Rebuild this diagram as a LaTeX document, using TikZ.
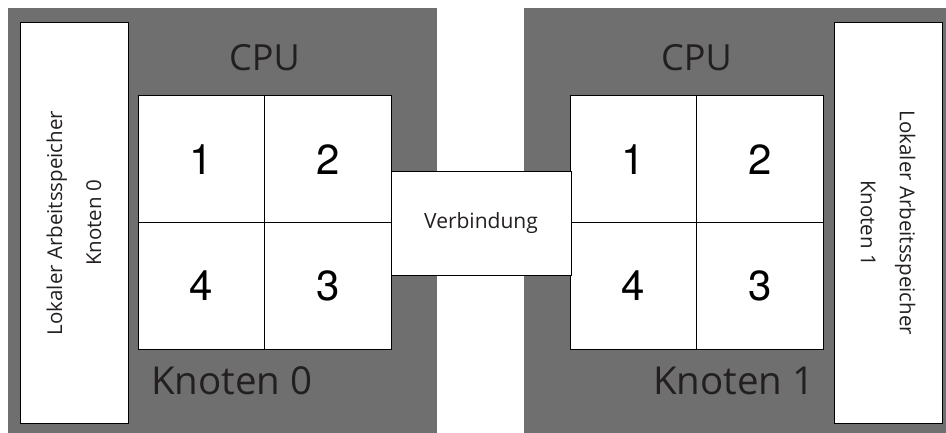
\documentclass[tikz,border=0pt]{standalone}
\usepackage{fontspec}
\setmainfont{Open Sans}
\newfontfamily\digitfont{TeX Gyre Heros}
\usetikzlibrary{positioning}
\definecolor{knotengray}{HTML}{6F6F6F}
\definecolor{textdark}{HTML}{231F20}

\begin{document}
\begin{tikzpicture}[x=1pt,y=-1pt,
		knoten/.style={rectangle,fill=knotengray,draw=none,inner sep=0pt,anchor=north west},
		% rotated: width runs along the text
		speicher/.style={rectangle,fill=white,draw=black,line width=1pt,inner sep=0pt,
			minimum width=400pt,minimum height=108pt,align=center,text=textdark,
			font=\fontsize{20.5}{39}\selectfont},
		cell/.style={rectangle,fill=white,draw=black,line width=1pt,inner sep=0pt,
			minimum width=126.5pt,minimum height=126.5pt,font=\digitfont\fontsize{42}{42}\selectfont},
		titel/.style={text=textdark,inner sep=0pt,font=\fontsize{36}{36}\selectfont},
		knotenname/.style={text=textdark,inner sep=0pt,anchor=base west,font=\fontsize{38.5}{38.5}\selectfont}]
		\useasboundingbox[fill=white] (0,0) rectangle (946,433);
		
		\node[knoten,minimum width=429pt,minimum height=425pt] (k0) at (8,8) {};
		\node[knoten,minimum width=422pt,minimum height=425pt] (k1) at (524,8) {};
		
		\node[speicher,rotate=90] (s0) at (74,223) {Lokaler Arbeitsspeicher\\Knoten 0};
		\node[speicher,rotate=-90] (s1) at (888,223) {Lokaler Arbeitsspeicher\\Knoten 1};
		
		\begin{scope}[every node/.style={cell}]
			\node (a1) at (201.25,159.25) {1};
			\node (a2) at (327.75,159.25) {2};
			\node (a4) at (201.25,285.75) {4};
			\node (a3) at (327.75,285.75) {3};
			\node (b1) at (633.25,159.25) {1};
			\node (b2) at (759.75,159.25) {2};
			\node (b4) at (633.25,285.75) {4};
			\node (b3) at (759.75,285.75) {3};
		\end{scope}
		
		\node[rectangle,fill=white,draw=black,line width=1pt,minimum width=180pt,minimum height=103pt,
			text=textdark,font=\fontsize{21}{21}\selectfont] (v) at (481,223.5) {Verbindung};
		
		\node[titel,anchor=base] (cpu0) at (264.5,71) {CPU};
		\node[titel,anchor=base] (cpu1) at (696.5,71) {CPU};
		\node[knotenname] (n0) at (151,394) {Knoten 0};
		\node[knotenname] (n1) at (653,394) {Knoten 1};
\end{tikzpicture}
\end{document}
